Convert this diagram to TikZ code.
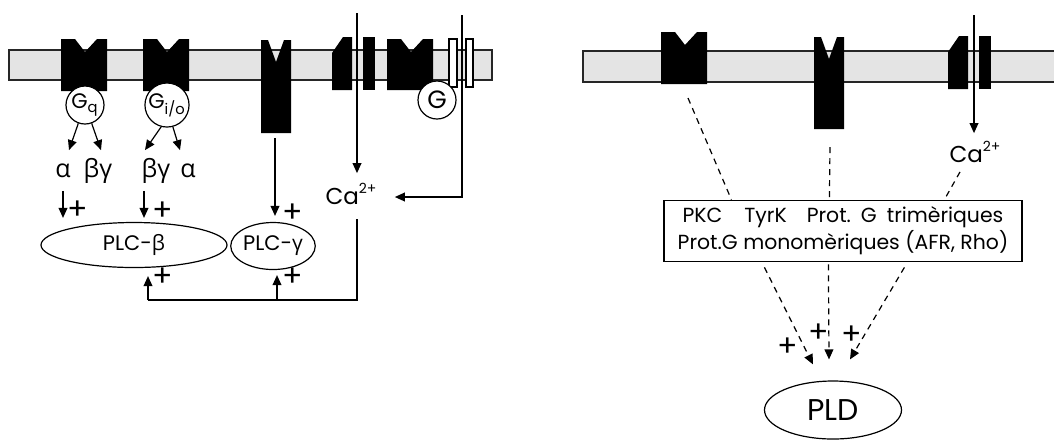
\documentclass[tikz,border=0pt]{standalone}
\usepackage{fontspec}
\setmainfont{Poppins}
\newfontfamily\grk{Open Sans}
\usetikzlibrary{arrows.meta,shapes.geometric,calc}
\definecolor{membgray}{HTML}{E4E4E4}
\newcommand{\caion}{Ca\raisebox{0.9ex}{\fontsize{7}{7}\selectfont 2+}}
\tikzset{
  >={Triangle[length=5pt,width=4.4pt]},
  % membrane et recepteurs
  memb/.style={draw=black!85,fill=membgray,line width=0.7pt},
  recep/.style={fill=black},
  slim/.style={draw=black,fill=white,line width=0.6pt},
  gprot/.style={circle,draw=black,fill=white,line width=0.6pt,inner sep=0pt,
                minimum size=19pt,font=\fontsize{10.5}{11}\selectfont},
  % textes
  lbl/.style={inner sep=0pt,text height=5.5pt,text depth=0pt,font=\fontsize{12.5}{13}\selectfont},
  ca/.style={inner sep=0pt,text height=7.5pt,text depth=0pt,font=\fontsize{11.5}{13}\selectfont},
  plus/.style={inner sep=0pt,font=\fontsize{15}{15}\selectfont},
  enz/.style={ellipse,draw=black,line width=0.6pt,inner sep=0pt,
              font=\fontsize{10.5}{12}\selectfont},
  % fleches
  arr/.style={->,line width=0.6pt},
  ln/.style={line width=0.6pt},
  dsh/.style={line width=0.6pt,dash pattern=on 3pt off 2.5pt},
}
\begin{document}
\begin{tikzpicture}[x=0.5pt,y=-0.5pt]
  \useasboundingbox (0,0) rectangle (1054,441);
  % membranes
  \draw[memb] (9,50) rectangle (492,80);
  \draw[memb] (583,51) rectangle (1070,82);
  % recepteurs
  \foreach \x/\t/\b in {61/39/91,143/39/91,387/39/90,661/32/84}
    \fill[recep] (\x,\t) -- (\x+14,\t) -- (\x+24,\t+13) -- (\x+36,\t) -- (\x+46,\t)
      -- (\x+46,\b) -- (\x,\b) -- cycle;
  \foreach \x/\t/\b in {261/40/133,814/37/129}
    \fill[recep] (\x,\t) -- (\x+7,\t) -- (\x+15,\t+22) -- (\x+23,\t) -- (\x+30,\t)
      -- (\x+30,\b) -- (\x,\b) -- cycle;
  \foreach \x/\t/\b in {332/37/90,948/36/89}{
    \fill[recep] (\x,\t+16) -- (\x+11,\t) -- (\x+20,\t) -- (\x+20,\b) -- (\x,\b) -- cycle;
    \fill[recep] (\x+31,\t) rectangle (\x+43,\b);
  }
  \draw[slim] (449,39) rectangle (457,87);
  \draw[slim] (466,39) rectangle (473,87);
  \coordinate (ybot) at (275,133);
  \coordinate (ch1) at (357,13);
  \coordinate (gl) at (462,15);
  \coordinate (ch2) at (974,15);
  \coordinate (m2) at (688,98);
  \coordinate (y2) at (830,147);

  % proteines G
  \node[gprot] (gq) at (85,105) {G\textsubscript{q}};
  \node[gprot] (gio) at (167,105) {G\textsubscript{i/o}};
  \node[gprot,font=\fontsize{12.5}{13}\selectfont] (g) at (437,100) {G};

  % sous-unites
  \node[lbl] (a1) at (63,172) {\grk α};
  \node[lbl] (bg1) at (98,172) {\grk βγ};
  \node[lbl] (bg2) at (156,172) {\grk βγ};
  \node[lbl] (a2) at (188,172) {\grk α};
  \draw[arr] (gq.250) -- ([shift={(3pt,8pt)}]a1.north);
  \draw[arr] (gq.290) -- ([shift={(1.5pt,8pt)}]bg1.north);
  \draw[arr] (gio.255) -- ([shift={(-5.5pt,8pt)}]bg2.north);
  \draw[arr] (gio.285) -- ([shift={(-4pt,8pt)}]a2.north);

  % PLC
  \node[enz,minimum width=93pt,minimum height=22.5pt] (plcb) at (134,245) {PLC-{\grk β}};
  \node[enz,minimum width=40.5pt,minimum height=23.5pt] (plcg) at (273,246) {PLC-{\grk γ}};
  \draw[arr] ([yshift=-6.5pt]a1.south) -- ++(0,27);
  \draw[arr] ([shift={(-6pt,-6.5pt)}]bg2.south) -- ++(0,27);
  \draw[arr] ([yshift=-2.5pt]ybot) -- ([yshift=3pt]plcg.north -| ybot);
  \node[plus] (p1) at (78,210) {+};
  \node[plus] (p2) at (163,211) {+};
  \node[plus] (p3) at (293,213) {+};

  % calcium
  \node[ca] (ca1) at (351,197) {\caion};
  \draw[arr,shorten >=8pt] (ch1) -- (ch1 |- ca1.north);
  \draw[arr] (gl) |- ([xshift=9pt]ca1.east);
  \coordinate (fbtop) at (357,219);
  \coordinate (fbb) at (148,300);
  \coordinate (fbg) at (277,300);
  \draw[ln] (fbtop) |- (fbb);
  \draw[arr] (fbb) -- ([yshift=-4pt]plcb.south -| fbb);
  \draw[arr] (fbg) -- ([yshift=-2.5pt]plcg.south -| fbg);
  \node[plus] (p4) at (163,277) {+};
  \node[plus] (p5) at (293,277) {+};

  % partie droite
  \node[ca] (ca2) at (975,155) {\caion};
  \draw[arr,shorten >=7pt] (ch2) -- (ch2 |- ca2.north);
  \node[draw,line width=0.6pt,minimum width=179pt,minimum height=29pt,align=center,
        font=\fontsize{10.2}{13.5}\selectfont] (box) at (843,231)
        {PKC\hspace{11pt}TyrK\hspace{10pt}Prot.\hspace{5pt}G\hspace{5pt}trimèriques\\
         Prot.G monomèriques (AFR, Rho)};
  \draw[dsh] (m2) -- ($(box.north west)+(68,0)$);
  \draw[dsh] (y2) -- ($(box.north west)+(166,0)$);
  \draw[dsh] ([shift={(-7.5pt,-4.5pt)}]ca2.south) -- ($(box.north west)+(281,0)$);
  \node[enz,minimum width=68.5pt,minimum height=29pt,font=\fontsize{15}{18}\selectfont]
    (pld) at (833,410) {PLD};
  \draw[dsh,->] ($(box.south west)+(101,5)$) -- ($(pld.north)+(-20,-16)$);
  \draw[dsh,->] ($(box.south west)+(165,2)$) -- ($(pld.north)+(-4,-21)$);
  \draw[dsh,->] ($(box.south west)+(241,5)$) -- ($(pld.north)+(17,-21)$);
  \node[plus] (p6) at (788,347) {+};
  \node[plus] (p7) at (819,333) {+};
  \node[plus] (p8) at (852,335) {+};
\end{tikzpicture}
\end{document}
